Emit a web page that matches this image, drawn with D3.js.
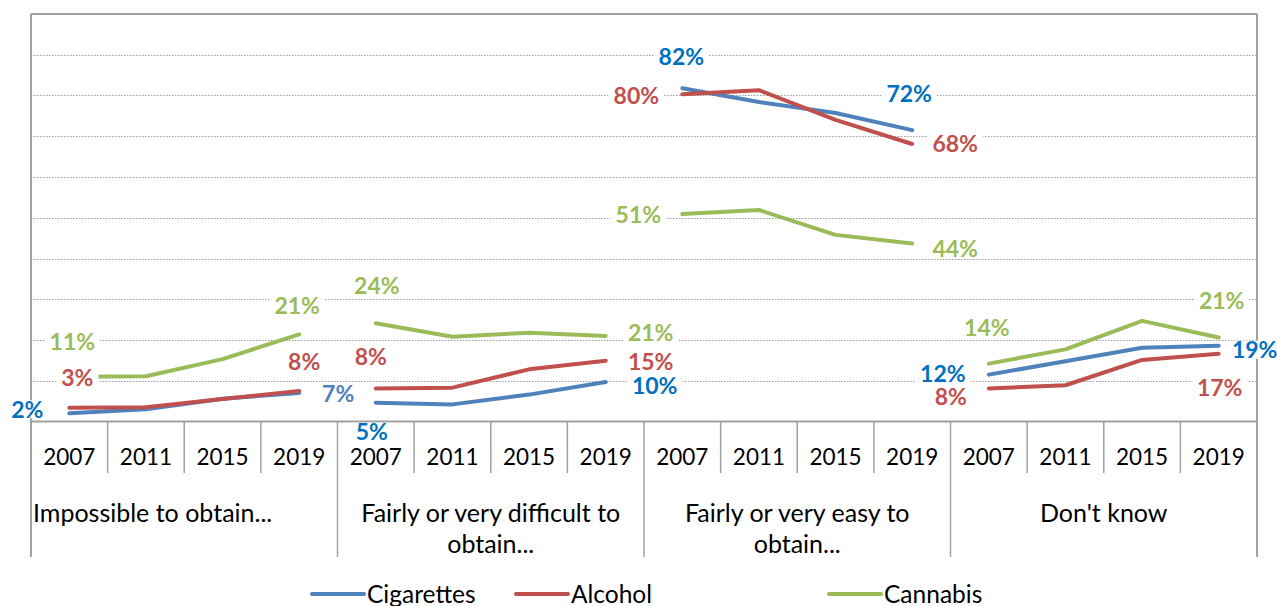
<!DOCTYPE html>
<html>
<head>
<meta charset="utf-8">
<script src="https://cdn.jsdelivr.net/npm/d3@7/dist/d3.min.js"></script>
<style>
  body { margin: 0; background: #fff; }
  svg text { font-family: Lato, "Open Sans", sans-serif; }
</style>
</head>
<body>
<svg id="chart" width="1277" height="606"></svg>
<script>
// Data
var groups = ["Impossible to obtain...", "Fairly or very difficult to obtain...", "Fairly or very easy to obtain...", "Don't know"];
var years = ["2007", "2011", "2015", "2019"];
var seriesNames = ["Cigarettes", "Alcohol", "Cannabis"];
var cigarettes = [[2, 3, 5.6, 7], [4.6, 4.2, 6.6, 9.7], [81.8, 78.4, 75.7, 71.5], [11.5, 14.8, 18.1, 18.6]];
var alcohol = [[3.4, 3.5, 5.5, 7.5], [8.1, 8.3, 12.8, 14.9], [80.3, 81.3, 74, 68.1], [8.1, 8.9, 15.1, 16.6]];
var cannabis = [[11, 11.1, 15.3, 21.4], [24.1, 20.8, 21.8, 21], [50.9, 51.9, 45.8, 43.7], [14.2, 17.7, 24.7, 20.6]];
var yTicks = [10, 20, 30, 40, 50, 60, 70, 80, 90];

// Category label wrapping (as in the original)
var groupLines = [["Impossible to obtain..."], ["Fairly or very difficult to", "obtain..."], ["Fairly or very easy to", "obtain..."], ["Don't know"]];

// Styles
var lineColors = ["#4F81BD", "#C0504D", "#9BBB59"];
var labelColors = ["#0070C0", "#C0504D", "#9BBB59"];

// Data label placement: [first, last] offsets per group, per series
var labelOffsets = [
  [[[-42, -4], [39, 1]], [[8, -30], [5, -29]], [[3, -35], [-2, -29]]],
  [[[-4, 29], [49, 4]], [[-5, -32], [45, 1]], [[1, -38], [45, -3]]],
  [[[-1, -31], [-3, -36]], [[-46, 1], [43, 0]], [[-44, 1], [43, 5]]],
  [[[-46, -1], [36, 4]], [[-38, 8], [1, 34]], [[-2, -36], [3, -37]]]
];

var svg = d3.select("#chart");
var plotLeft = 31, plotRight = 1257, plotTop = 14, plotBottom = 421.5;

var keys = [];
groups.forEach(function(g, gi) {
  years.forEach(function(yr) { keys.push(gi + "|" + yr); });
});

var x = d3.scaleBand().domain(keys).range([plotLeft, plotRight]);
var y = d3.scaleLinear().domain([0, 100]).range([plotBottom, plotTop]);
var bw = x.bandwidth();

// Gridlines
svg.append("g").selectAll("line")
  .data(yTicks)
  .enter().append("line")
  .attr("x1", plotLeft).attr("x2", plotRight)
  .attr("y1", function(d) { return Math.round(y(d)) + 0.5; })
  .attr("y2", function(d) { return Math.round(y(d)) + 0.5; })
  .attr("stroke", "#9a9a9a")
  .attr("stroke-width", 1)
  .attr("stroke-dasharray", "1.5,1.5");

// Plot border
var axisColor = "#a0a0a0";
svg.append("line").attr("x1", plotLeft).attr("x2", plotRight).attr("y1", plotTop).attr("y2", plotTop)
  .attr("stroke", axisColor).attr("stroke-width", 2);
svg.append("line").attr("x1", plotLeft).attr("x2", plotLeft).attr("y1", plotTop).attr("y2", 557)
  .attr("stroke", axisColor).attr("stroke-width", 2);
svg.append("line").attr("x1", plotRight).attr("x2", plotRight).attr("y1", plotTop).attr("y2", 557)
  .attr("stroke", axisColor).attr("stroke-width", 2);
svg.append("line").attr("x1", plotLeft).attr("x2", plotRight).attr("y1", plotBottom).attr("y2", plotBottom)
  .attr("stroke", axisColor).attr("stroke-width", 2);

// Year tick marks and group separators
svg.append("g").selectAll("line")
  .data(keys.slice(1))
  .enter().append("line")
  .attr("x1", function(d) { return x(d); })
  .attr("x2", function(d) { return x(d); })
  .attr("y1", plotBottom)
  .attr("y2", function(d, i) { return (i + 1) % 4 == 0 ? 557 : 473; })
  .attr("stroke", axisColor)
  .attr("stroke-width", 1.5);

// Year labels
svg.append("g").selectAll("text")
  .data(keys)
  .enter().append("text")
  .attr("x", function(d) { return x(d) + bw / 2; })
  .attr("y", 465)
  .attr("text-anchor", "middle")
  .attr("font-size", "22.5px")
  .attr("fill", "#000")
  .text(function(d) { return d.split("|")[1]; });

// Group labels
groupLines.forEach(function(lines, gi) {
  var cx = x(gi + "|" + years[0]) + bw * 2;
  lines.forEach(function(txt, li) {
    var t = svg.append("text")
      .attr("y", 522 + li * 31)
      .attr("font-size", "25px")
      .attr("fill", "#000")
      .text(txt);
    if (gi == 0) {
      t.attr("x", 33).attr("text-anchor", "start");
    } else {
      t.attr("x", cx).attr("text-anchor", "middle");
    }
  });
});

// Lines
var allSeries = [cigarettes, alcohol, cannabis];
var line = d3.line()
  .x(function(d) { return x(d.key) + bw / 2; })
  .y(function(d) { return y(d.value); });

allSeries.forEach(function(series, si) {
  series.forEach(function(vals, gi) {
    var pts = vals.map(function(v, yi) { return { key: gi + "|" + years[yi], value: v }; });
    svg.append("path")
      .datum(pts)
      .attr("fill", "none")
      .attr("stroke", lineColors[si])
      .attr("stroke-width", 4)
      .attr("stroke-linecap", "round")
      .attr("stroke-linejoin", "round")
      .attr("d", line);
  });
});

// Data labels (first and last point of each group)
var labelLayer = svg.append("g");
allSeries.forEach(function(series, si) {
  series.forEach(function(vals, gi) {
    [0, 3].forEach(function(yi, k) {
      var off = labelOffsets[gi][si][k];
      var px = x(gi + "|" + years[yi]) + bw / 2 + off[0];
      var py = y(vals[yi]) + off[1];
      var g = labelLayer.append("g");
      var rect = g.append("rect").attr("fill", "#fff");
      var color = labelColors[si];
      if (si == 0 && gi == 0 && k == 1) color = "#4F81BD";
      var t = g.append("text")
        .attr("x", px)
        .attr("y", py)
        .attr("dy", "0.36em")
        .attr("text-anchor", "middle")
        .attr("font-size", "23px")
        .attr("font-weight", "bold")
        .attr("fill", color)
        .text(Math.round(vals[yi]) + "%");
      var bb = t.node().getBBox();
      rect.attr("x", bb.x - 5).attr("y", py - 9)
        .attr("width", bb.width + 10).attr("height", 18);
    });
  });
});

// Legend
var legendX = [312, 516, 829];
var legend = svg.append("g").selectAll("g")
  .data(seriesNames)
  .enter().append("g")
  .attr("transform", function(d, i) { return "translate(" + legendX[i] + ",594)"; });

legend.append("line")
  .attr("x1", 0).attr("x2", 52)
  .attr("stroke", function(d, i) { return lineColors[i]; })
  .attr("stroke-width", 4)
  .attr("stroke-linecap", "round");

legend.append("text")
  .attr("x", 55)
  .attr("y", 9)
  .attr("font-size", "24.5px")
  .attr("fill", "#000")
  .text(function(d) { return d; });
</script>
</body>
</html>
